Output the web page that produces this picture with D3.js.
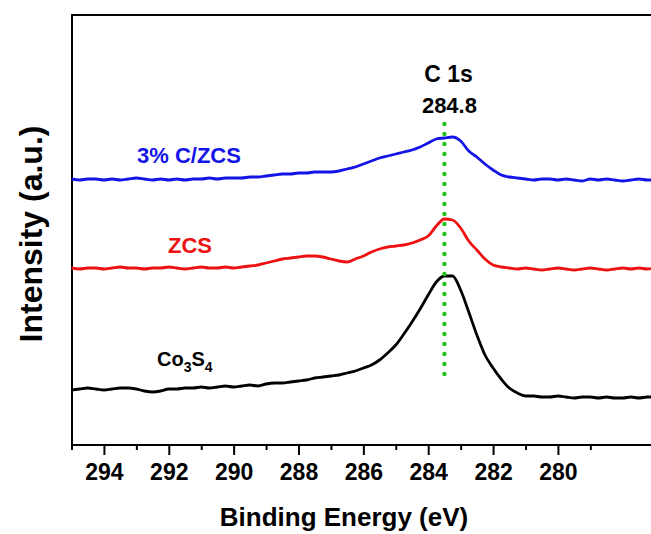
<!DOCTYPE html>
<html>
<head>
<meta charset="utf-8">
<script src="https://cdn.jsdelivr.net/npm/d3@7/dist/d3.min.js"></script>
<style>
  html, body { margin: 0; padding: 0; background: #fff; }
  svg { display: block; }
  text { font-family: "Liberation Sans", Arial, sans-serif; font-weight: bold; }
</style>
</head>
<body>
<svg id="chart" width="651" height="534"></svg>
<script>
// ---------------- DATA ----------------
// Binding energy (eV), step 0.25 from 295 down to 277
const energies = d3.range(0, 73).map(i => 295 - i * 0.25);

// Intensity (a.u.), offset-stacked as in the figure
const co3s4 = [
  55,56,57,56,55,56,57,57,56,54,53,54,56,56,57,57,58,57,58,59,
  58,59,60,59,61,62,62,63,64,65,67,68,69,70,72,74,77,80,85,92,
  100,111,123,136,150,163,169,169,155,133,110,90,77,66,57,52,49,49,48,48,
  49,48,47,48,48,47,48,47,47,48,47,48,48
];
const zcs = [
  177,176,177,177,176,177,178,177,177,176,177,177,178,177,176,177,178,177,177,178,
  177,178,179,180,182,184,186,187,188,189,189,188,186,184,183,186,189,193,196,198,
  199,200,202,205,209,219,226,225,217,204,195,186,180,178,177,176,177,176,175,176,
  177,176,175,176,177,176,175,176,177,176,177,176,177
];
const czcs = [
  266,265,266,266,265,266,265,266,267,266,265,266,265,266,265,266,266,267,266,267,
  267,267,268,268,269,270,271,271,272,272,273,273,273,274,276,278,281,284,287,289,
  291,293,295,298,302,306,307,308,304,294,288,281,275,270,268,267,266,265,266,266,
  265,266,265,264,266,265,266,265,264,265,266,265,265
];

const seriesNames = ["3% C/ZCS", "ZCS", "Co3S4"];
const seriesColors = ["#1414e6", "#ee1111", "#000000"];
const xTicks = [294, 292, 290, 288, 286, 284, 282, 280];
const xMinorTicks = [295, 293, 291, 289, 287, 285, 283, 281, 279, 277];

const markerE = 283.5;            // dotted reference line position
const markerSpan = [64, 321];     // intensity extent of the dotted line
const markerTitle = "C 1s";
const markerValue = "284.8";

// ---------------- LAYOUT ----------------
const svg = d3.select("#chart");
const pLeft = 72, pTop = 15, pBottom = 445, pRight = 651;

const x = d3.scaleLinear().domain([295, 277.13]).range([71.5, 651]);
const y = d3.scaleLinear().domain([0, 430]).range([pBottom, pTop]);

// frame
svg.append("line").attr("x1", pLeft).attr("x2", pRight).attr("y1", pTop).attr("y2", pTop)
  .attr("stroke", "#000").attr("stroke-width", 2);
svg.append("line").attr("x1", pLeft).attr("x2", pLeft).attr("y1", pTop - 1).attr("y2", pBottom + 1)
  .attr("stroke", "#000").attr("stroke-width", 2);

// x axis major
const ax = svg.append("g").attr("transform", `translate(0,${pBottom})`)
  .call(d3.axisBottom(x).tickValues(xTicks).tickFormat(d3.format("d")).tickSize(10).tickPadding(9));
ax.select(".domain").attr("d", `M${pLeft},0H${pRight}`).attr("stroke-width", 2);
ax.selectAll(".tick line").attr("stroke-width", 2);
ax.selectAll(".tick text").attr("font-size", 23).attr("font-family", "Liberation Sans, Arial, sans-serif")
  .attr("font-weight", "bold").attr("fill", "#000");

// minor ticks
const axm = svg.append("g").attr("transform", `translate(0,${pBottom})`)
  .call(d3.axisBottom(x).tickValues(xMinorTicks).tickFormat("").tickSize(5));
axm.select(".domain").remove();
axm.selectAll(".tick line").attr("stroke-width", 2);

// axis titles
svg.append("text").attr("x", 344).attr("y", 526).attr("text-anchor", "middle")
  .attr("font-size", 26).text("Binding Energy (eV)");
svg.append("text").attr("transform", "translate(42,234) rotate(-90)").attr("text-anchor", "middle")
  .attr("font-size", 32).text("Intensity (a.u.)");

// curves
const line = d3.line().x((d, i) => x(energies[i])).y(d => y(d)).curve(d3.curveMonotoneX);
[czcs, zcs, co3s4].forEach((s, k) => {
  svg.append("path").datum(s).attr("d", line).attr("fill", "none")
    .attr("stroke", seriesColors[k]).attr("stroke-width", 2.8).attr("stroke-linejoin", "round");
});

// dotted line
svg.append("line").attr("x1", x(markerE)).attr("x2", x(markerE))
  .attr("y1", y(markerSpan[1])).attr("y2", y(markerSpan[0]))
  .attr("stroke", "#22c422").attr("stroke-width", 4.5).attr("stroke-linecap", "round")
  .attr("stroke-dasharray", "0,10");

svg.append("text").attr("x", x(markerE) + 4).attr("y", 82).attr("text-anchor", "middle")
  .attr("font-size", 23).text(markerTitle);
svg.append("text").attr("x", x(markerE) + 5).attr("y", 113).attr("text-anchor", "middle")
  .attr("font-size", 22).text(markerValue);

// series labels
svg.append("text").attr("x", 137).attr("y", 163).attr("font-size", 22).attr("fill", seriesColors[0]).text(seriesNames[0]);
svg.append("text").attr("x", 168).attr("y", 253).attr("font-size", 22).attr("fill", seriesColors[1]).text(seriesNames[1]);
const lab = svg.append("text").attr("x", 157).attr("y", 366).attr("font-size", 20).attr("fill", seriesColors[2]);
lab.append("tspan").text("Co");
lab.append("tspan").attr("font-size", 14).attr("dy", 6).text("3");
lab.append("tspan").attr("dy", -6).text("S");
lab.append("tspan").attr("font-size", 14).attr("dy", 6).text("4");
</script>
</body>
</html>
